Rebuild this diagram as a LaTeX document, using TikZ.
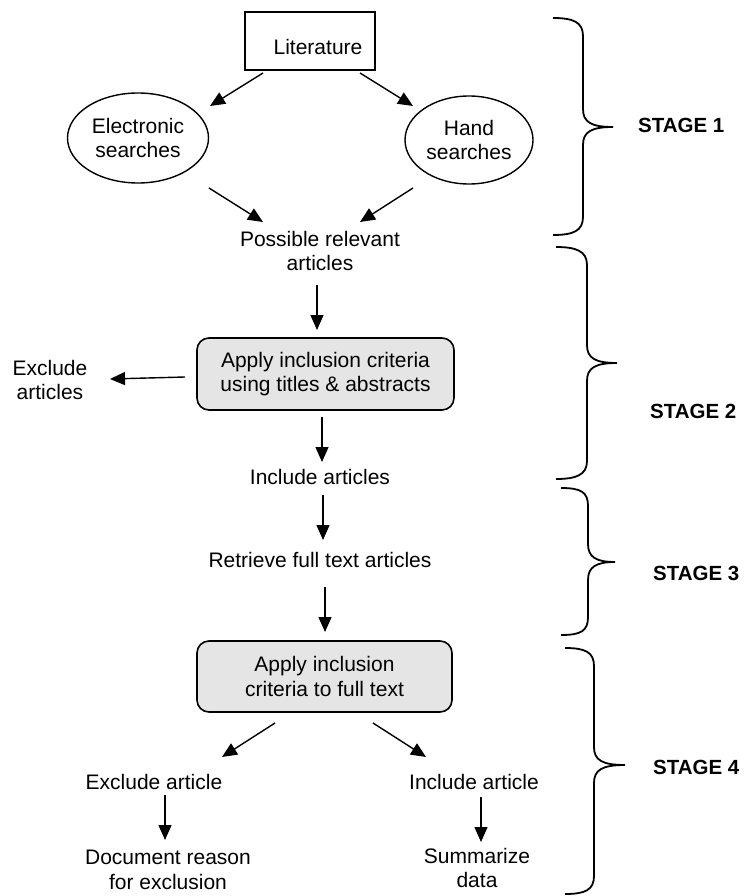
\documentclass[tikz,border=0pt]{standalone}
\usepackage{fontspec}
\setmainfont{Liberation Sans}
\usetikzlibrary{shapes.geometric,arrows.meta,calc}
\newcommand{\stagebrace}[6]{%
  \draw[bracestyle] (#1,#4) .. controls (#1+20,#4) and (#2,#4+4) .. (#2,#4+18)
    -- (#2,#5-18) .. controls (#2,#5-5) and (#2+8,#5) .. (#3,#5)
    .. controls (#2+8,#5) and (#2,#5+5) .. (#2,#5+18)
    -- (#2,#6-18) .. controls (#2,#6-4) and (#1+20,#6) .. (#1,#6);}
\tikzset{
  txt/.style={font=\fontsize{21}{24.5}\selectfont, align=center, inner sep=0pt},
  stagelbl/.style={font=\fontsize{20.5}{24}\selectfont\bfseries, anchor=west, inner sep=0pt},
  arr/.style={line width=1.4pt, -{Triangle[length=15pt,width=13pt]}},
  grbox/.style={txt, draw, line width=1.6pt, rounded corners=12pt, fill=black!10},
  oval/.style={txt, draw, ellipse, line width=1.4pt},
  bracestyle/.style={line width=1.8pt}
}
\begin{document}
\begin{tikzpicture}[x=1pt,y=-1pt]
\useasboundingbox (0,0) rectangle (744,896);
% nodes
\node[draw, line width=1.4pt, minimum width=130pt, minimum height=58pt] (lit) at (310,41) {};
\node[txt] (littxt) at (318,47) {Literature};
\node[oval, minimum width=141pt, minimum height=90pt] (elec) at (138,138) {Electronic\\searches};
\node[oval, minimum width=128pt, minimum height=88pt] (hand) at (469,140) {Hand\\searches};
\node[txt] (poss) at (320,251) {Possible relevant\\articles};
\node[grbox, minimum width=257pt, minimum height=72pt] (app1) at (325.5,374) {Apply inclusion criteria\\using titles \& abstracts};
\node[txt] (excl) at (50,380) {Exclude\\articles};
\node[txt] (inc) at (320,477) {Include articles};
\node[txt] (ret) at (320,560) {Retrieve full text articles};
\node[grbox, minimum width=255pt, minimum height=71pt] (app2) at (324.5,676.5) {Apply inclusion\\criteria to full text};
\node[txt] (exa) at (154,782) {Exclude article};
\node[txt] (ina) at (474,782) {Include article};
\node[txt] (doc) at (168,870) {Document reason\\for exclusion};
\node[txt] (sum) at (477,868) {Summarize\\data};
% stage labels
\node[stagelbl] (s1) at (638,125) {STAGE 1};
\node[stagelbl] (s2) at (650,411) {STAGE 2};
\node[stagelbl] (s3) at (653,573) {STAGE 3};
\node[stagelbl] (s4) at (653,767) {STAGE 4};
% arrows
\draw[arr] ($(lit)+(-47,32)$) -- ($(elec)+(72,-32)$);
\draw[arr] ($(lit)+(50,32)$) -- ($(hand)+(-56,-34)$);
\draw[arr] ($(elec)+(71,50)$) -- ($(poss)+(-57,-29)$);
\draw[arr] ($(hand)+(-56,48)$) -- ($(poss)+(40,-29)$);
\draw[arr] ($(poss)+(-3,34)$) -- ($(app1)+(-8.5,-44)$);
\draw[arr] ($(app1)+(-140.5,3)$) -- ($(excl)+(60,-1)$);
\draw[arr] ($(app1)+(-3.5,43)$) -- ($(inc)+(2,-15)$);
\draw[arr] ($(inc)+(3,18)$) -- ($(ret)+(3,-20)$);
\draw[arr] ($(ret)+(5,27)$) -- ($(app2)+(0.5,-44.5)$);
\draw[arr] ($(app2)+(-49.5,46.5)$) -- ($(exa)+(68,-25)$);
\draw[arr] ($(app2)+(48.5,46.5)$) -- ($(ina)+(-48,-25)$);
\draw[arr] ($(exa)+(11,13)$) -- ($(doc)+(-3,-30)$);
\draw[arr] ($(ina)+(7,15)$) -- ($(sum)+(4,-26)$);
% braces
\stagebrace{553}{583}{613}{18}{127}{235}
\stagebrace{556}{587}{617}{247}{363}{479}
\stagebrace{561}{588}{615}{488}{562}{635}
\stagebrace{565}{594}{625}{648}{765}{894}
\end{tikzpicture}
\end{document}
